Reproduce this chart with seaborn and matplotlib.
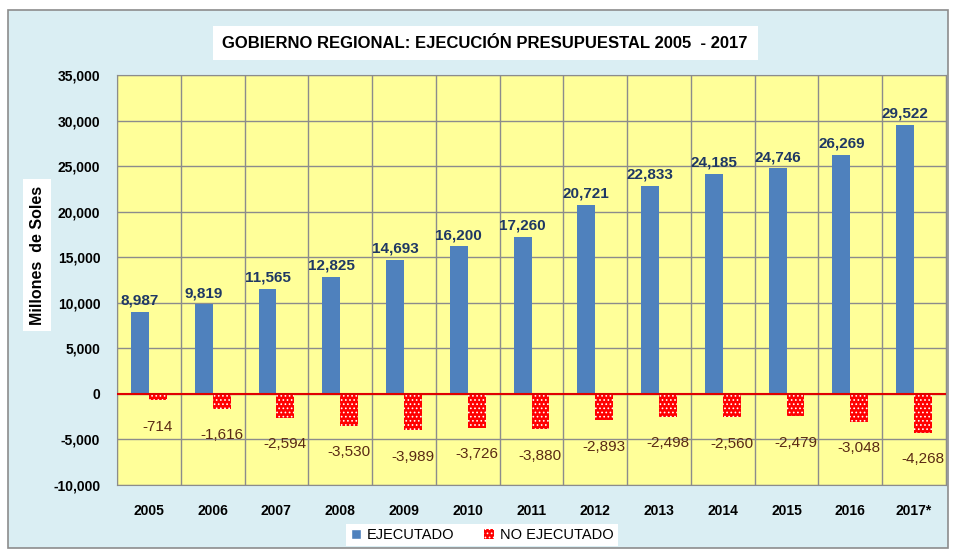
import numpy as np
import pandas as pd
import seaborn as sns
import matplotlib.pyplot as plt
from matplotlib.patches import Rectangle, Patch

years = ['2005', '2006', '2007', '2008', '2009', '2010', '2011',
         '2012', '2013', '2014', '2015', '2016', '2017*']
ejecutado = [8987, 9819, 11565, 12825, 14693, 16200, 17260,
             20721, 22833, 24185, 24746, 26269, 29522]
no_ejecutado = [-714, -1616, -2594, -3530, -3989, -3726, -3880,
                -2893, -2498, -2560, -2479, -3048, -4268]

sns.set_style('white')
plt.rcParams['font.family'] = ['Liberation Sans', 'DejaVu Sans']
plt.rcParams['hatch.linewidth'] = 0.7
plt.rcParams['text.color'] = 'black'

df = pd.DataFrame({
    'anio': years * 2,
    'monto': ejecutado + no_ejecutado,
    'serie': ['EJECUTADO'] * len(years) + ['NO EJECUTADO'] * len(years),
})

blue = '#4F81BD'
red = '#FF0000'
bg = '#DAEEF3'
plot_bg = '#FFFF99'

fig = plt.figure(figsize=(9.55, 5.51), dpi=100)
fig.patch.set_facecolor('white')
# outer chart frame
frame = Rectangle((8 / 955, 3 / 551), 940 / 955, 538 / 551, transform=fig.transFigure,
                  facecolor=bg, edgecolor='#8c8c8c', linewidth=1.2, zorder=-10)
fig.patches.append(frame)

ax = fig.add_axes([117 / 955, 1 - 485 / 551, 829 / 955, 410 / 551])
ax.set_zorder(1)
ax.set_facecolor(plot_bg)

sns.barplot(data=df, x='anio', y='monto', hue='serie', palette=[blue, red],
            width=0.56, ax=ax, legend=False, saturation=1, zorder=3)

# red bars dotted pattern
for cont, col in zip(ax.containers, [blue, red]):
    for p in cont:
        p.set_linewidth(0)
        if col == red:
            p.set_hatch('....')
            p.set_edgecolor('white')

ax.bar_label(ax.containers[0], labels=[f'{v:,}' for v in ejecutado], padding=3,
             fontsize=11, fontweight='bold', color='#1F3864')
ax.bar_label(ax.containers[1], labels=[f'{v:,}' for v in no_ejecutado], padding=14,
             fontsize=11, color='#5A2A14')

ax.set_ylim(-10000, 35000)
ax.set_xlim(-0.5, len(years) - 0.5)
ax.set_yticks(np.arange(-10000, 35001, 5000))
ax.set_yticklabels([f'{v:,}' for v in range(-10000, 35001, 5000)])
ax.set_xticks(np.arange(-0.5, len(years), 1), minor=True)
ax.grid(axis='y', which='major', color='#8c8c8c', linewidth=1, zorder=1)
ax.grid(axis='x', which='minor', color='#8c8c8c', linewidth=1, zorder=1)
ax.set_axisbelow(True)
ax.axhline(0, color='#E00000', linewidth=1.5, zorder=4)

ax.tick_params(axis='both', which='both', length=0)
ax.tick_params(axis='x', pad=14)
ax.tick_params(axis='y', pad=12)
for lab in ax.get_xticklabels() + ax.get_yticklabels():
    lab.set_fontweight('bold')
    lab.set_fontsize(10)
    lab.set_color('black')
ax.set_xlabel('')
ax.set_ylabel('')
for s in ax.spines.values():
    s.set_color('#8c8c8c')

fig.text(0.508, 1 - 43 / 551, 'GOBIERNO REGIONAL: EJECUCIÓN PRESUPUESTAL 2005  - 2017',
         ha='center', va='center', fontsize=12, fontweight='bold', color='black',
         bbox=dict(facecolor='white', edgecolor='none', pad=7))
fig.text(37 / 955, 1 - 255 / 551, 'Millones  de Soles', rotation=90,
         ha='center', va='center', fontsize=11.5, fontweight='bold', color='black',
         bbox=dict(facecolor='white', edgecolor='none', pad=5))

handles = [Patch(facecolor=blue, label='EJECUTADO'),
           Patch(facecolor=red, hatch='....', edgecolor='white', linewidth=0, label='NO EJECUTADO')]
leg = fig.legend(handles=handles, loc='center', bbox_to_anchor=(482 / 955, 1 - 535 / 551), ncol=2,
                 frameon=True, fancybox=False, fontsize=10.5, handlelength=0.7, handleheight=0.7,
                 columnspacing=2.0, handletextpad=0.4, borderpad=0.3)
leg.get_frame().set_edgecolor('none')
leg.get_frame().set_facecolor('white')
leg.get_frame().set_alpha(1)
for t in leg.get_texts():
    t.set_color('black')

fig.savefig('out.png', dpi=100, facecolor=fig.get_facecolor())
